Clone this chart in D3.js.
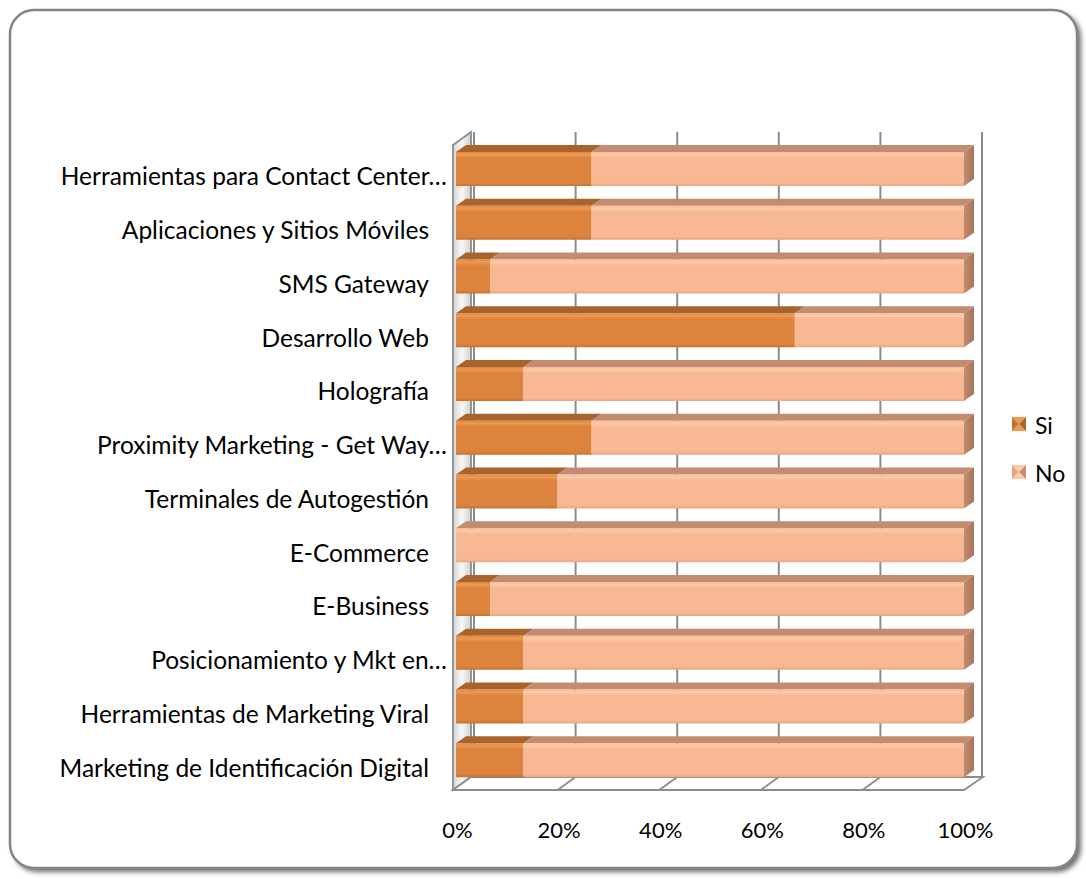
<!DOCTYPE html>
<html>
<head>
<meta charset="utf-8">
<script src="https://cdn.jsdelivr.net/npm/d3@7"></script>
<style>
  html, body { margin: 0; padding: 0; background: #fff; }
  svg { display: block; }
  text { font-family: Lato, "Open Sans", sans-serif; fill: #000; }
</style>
</head>
<body>
<svg id="chart" width="1086" height="879"></svg>
<script>
// Categories, top to bottom ("…" marks labels cut short by the sheet)
const categories = [
  "Herramientas para Contact Center…",
  "Aplicaciones y Sitios Móviles",
  "SMS Gateway",
  "Desarrollo Web",
  "Holografía",
  "Proximity Marketing - Get Way…",
  "Terminales de Autogestión",
  "E-Commerce",
  "E-Business",
  "Posicionamiento y Mkt en…",
  "Herramientas de Marketing Viral",
  "Marketing de Identificación Digital"
];
// Share of answers per category, in percent
const siValues = [26.7, 26.7, 6.7, 66.7, 13.3, 26.7, 20.0, 0.0, 6.7, 13.3, 13.3, 13.3];
const noValues = [73.3, 73.3, 93.3, 33.3, 86.7, 73.3, 80.0, 100.0, 93.3, 86.7, 86.7, 86.7];
const seriesNames = ["Si", "No"];
const tickValues = [0, 20, 40, 60, 80, 100];

const svg = d3.select("#chart");
const defs = svg.append("defs");

// ---- outer frame with soft shadow ----
const shadow = defs.append("filter").attr("id", "frameShadow")
  .attr("x", "-5%").attr("y", "-5%").attr("width", "110%").attr("height", "110%");
shadow.append("feGaussianBlur").attr("stdDeviation", 2.5);

svg.append("rect")
  .attr("x", 13).attr("y", 13).attr("width", 1068).attr("height", 859)
  .attr("rx", 24).attr("fill", "#6e6e6e").attr("filter", "url(#frameShadow)");
svg.append("rect")
  .attr("x", 10).attr("y", 10).attr("width", 1067).attr("height", 858)
  .attr("rx", 24).attr("fill", "#fff")
  .attr("stroke", "#858585").attr("stroke-width", 2.5);

// ---- 3D plot geometry ----
const depth = { dx: 18, dy: -13 };   // floor/wall depth
const barDepth = { dx: 10, dy: -7 }; // bar depth
const frontTop = 145, frontBottom = 790;

const xFront = d3.scaleLinear().domain([0, 100]).range([456, 964]);
const xBack = d3.scaleLinear().domain([0, 100]).range([xFront(0) + depth.dx, xFront(100) + depth.dx]);
const y = d3.scaleBand().domain(categories).range([frontTop, frontBottom]);

// left wall gradient
const wallGrad = defs.append("linearGradient").attr("id", "wallGrad")
  .attr("x1", 0).attr("x2", 1).attr("y1", 0).attr("y2", 0);
wallGrad.append("stop").attr("offset", 0).attr("stop-color", "#d6d6d6");
wallGrad.append("stop").attr("offset", 0.5).attr("stop-color", "#f7f7f7");
wallGrad.append("stop").attr("offset", 1).attr("stop-color", "#cfcfcf");

const gridColor = "#8c8c8c";
const wallX0 = xFront(0) - 3;

// left wall
svg.append("path")
  .attr("d", d3.line()([
    [wallX0, frontTop], [wallX0 + depth.dx, frontTop + depth.dy],
    [wallX0 + depth.dx, frontBottom + depth.dy], [wallX0, frontBottom]
  ]) + "Z")
  .attr("fill", "url(#wallGrad)").attr("stroke", gridColor).attr("stroke-width", 1.8);

// floor
svg.append("path")
  .attr("d", d3.line()([
    [wallX0, frontBottom], [wallX0 + depth.dx, frontBottom + depth.dy],
    [xBack(100) + 1, frontBottom + depth.dy], [xFront(100), frontBottom]
  ]) + "Z")
  .attr("fill", "#fff").attr("stroke", gridColor).attr("stroke-width", 1.8);

// floor grid diagonals
svg.append("g").selectAll("line").data(tickValues.slice(1, -1)).join("line")
  .attr("x1", d => xFront(d)).attr("y1", frontBottom)
  .attr("x2", d => xBack(d)).attr("y2", frontBottom + depth.dy)
  .attr("stroke", gridColor).attr("stroke-width", 1.8);

// back wall gridlines
svg.append("g").selectAll("line").data(tickValues).join("line")
  .attr("x1", d => xBack(d)).attr("x2", d => xBack(d))
  .attr("y1", frontTop + depth.dy).attr("y2", frontBottom + depth.dy)
  .attr("stroke", gridColor).attr("stroke-width", 2);

// ---- bars ----
const palette = {
  Si: { front: "#dc843e", hi: "#ef9a52", low: "#c87332", top: "#a9642d", side: "#b86a2e" },
  No: { front: "#f9b894", hi: "#fccaa9", low: "#e8a682", top: "#c38b6f", side: "#c48c70" }
};
seriesNames.forEach(s => {
  const g = defs.append("linearGradient").attr("id", "front" + s)
    .attr("x1", 0).attr("x2", 0).attr("y1", 0).attr("y2", 1);
  g.append("stop").attr("offset", 0).attr("stop-color", palette[s].front);
  g.append("stop").attr("offset", 0.07).attr("stop-color", palette[s].hi);
  g.append("stop").attr("offset", 0.18).attr("stop-color", palette[s].front);
  g.append("stop").attr("offset", 0.9).attr("stop-color", palette[s].front);
  g.append("stop").attr("offset", 1).attr("stop-color", palette[s].low);
  const sg = defs.append("linearGradient").attr("id", "side" + s)
    .attr("x1", 0).attr("x2", 1).attr("y1", 0).attr("y2", 0);
  sg.append("stop").attr("offset", 0).attr("stop-color", palette[s].side);
  sg.append("stop").attr("offset", 1).attr("stop-color", "#a8735a");
});

const stackData = categories.map((c, i) => ({ cat: c, Si: siValues[i], No: noValues[i] }));
const stacked = d3.stack().keys(seriesNames)(stackData);

const barOffset = 7, barH = 34;
const barsG = svg.append("g");
stacked.forEach(layer => {
  const s = layer.key;
  const g = barsG.append("g");
  layer.forEach(d => {
    const x0 = xFront(d[0]), x1 = xFront(d[1]);
    if (x1 - x0 <= 0) return;
    const yf = y(d.data.cat) + barOffset;
    // top face
    g.append("path")
      .attr("d", d3.line()([
        [x0, yf], [x0 + barDepth.dx, yf + barDepth.dy],
        [x1 + barDepth.dx, yf + barDepth.dy], [x1, yf]
      ]) + "Z")
      .attr("fill", palette[s].top);
    // front face
    g.append("rect")
      .attr("x", x0).attr("y", yf).attr("width", x1 - x0).attr("height", barH)
      .attr("fill", `url(#front${s})`);
    // right side face on the outermost segment
    if (d[1] >= 100 - 1e-9) {
      g.append("path")
        .attr("d", d3.line()([
          [x1, yf], [x1 + barDepth.dx, yf + barDepth.dy],
          [x1 + barDepth.dx, yf + barH + barDepth.dy], [x1, yf + barH]
        ]) + "Z")
        .attr("fill", `url(#side${s})`);
    }
  });
});

// ---- category labels ----
// full labels keep a trailing gap; cut-short labels run up to the wall
svg.append("g").selectAll("text").data(categories).join("text")
  .attr("x", d => d.endsWith("…") ? 447 : 429)
  .attr("y", d => y(d) + y.bandwidth() / 2 + 4)
  .attr("text-anchor", "end")
  .attr("dominant-baseline", "central")
  .style("font-size", "24.5px")
  .text(d => d);

// ---- value axis ----
const axis = d3.axisBottom(xFront)
  .tickValues(tickValues)
  .tickFormat(d => d + "%")
  .tickSize(0)
  .tickPadding(0);
const axisG = svg.append("g").attr("transform", "translate(1,822)").call(axis);
axisG.select(".domain").remove();
axisG.selectAll("text")
  .style("font-size", "22px")
  .style("font-family", "Lato, 'Open Sans', sans-serif")
  .attr("fill", "#000");

// ---- legend ----
const legend = svg.append("g").attr("transform", "translate(1012,417)");
const legendItem = legend.selectAll("g").data(seriesNames).join("g")
  .attr("transform", (d, i) => `translate(0,${i * 48})`);
const m = 14;
legendItem.each(function (s) {
  const g = d3.select(this);
  const c = m / 2;
  const tri = pts => d3.line()(pts) + "Z";
  g.append("path").attr("d", tri([[0, 0], [m, 0], [c, c]])).attr("fill", palette[s].hi);
  g.append("path").attr("d", tri([[0, m], [m, m], [c, c]])).attr("fill", palette[s].hi);
  g.append("path").attr("d", tri([[0, 0], [0, m], [c, c]])).attr("fill", palette[s].low);
  g.append("path").attr("d", tri([[m, 0], [m, m], [c, c]])).attr("fill", palette[s].top);
});
legendItem.append("text")
  .attr("x", 23).attr("y", m / 2 + 1)
  .attr("dominant-baseline", "central")
  .style("font-size", "23px")
  .text(d => d);
</script>
</body>
</html>
